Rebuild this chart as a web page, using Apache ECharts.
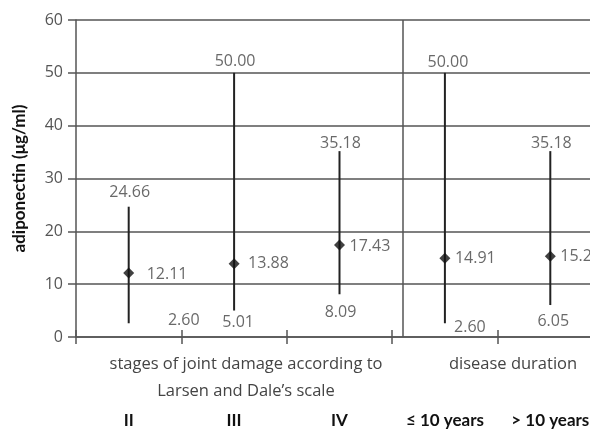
<!DOCTYPE html>
<html><head><meta charset="utf-8">
<script src="https://cdn.jsdelivr.net/npm/echarts@6/dist/echarts.min.js"></script>
<style>html,body{margin:0;padding:0;background:#fff}#c{width:590px;height:430px}</style>
</head><body><div id="c"></div>
<script>
const categories = ['II', 'III', 'IV', '≤ 10 years', '> 10 years'];
const minValues = [2.60, 5.01, 8.09, 2.60, 6.05];
const medianValues = [12.11, 13.88, 17.43, 14.91, 15.27];
const maxValues = [24.66, 50.00, 35.18, 50.00, 35.18];
const yMin = 0, yMax = 60, yInterval = 10;
const groupLabels = ['stages of joint damage according to\nLarsen and Dale\u2019s scale', 'disease duration'];
const yTitle = 'adiponectin (\u03bcg/ml)';
const separatorPos = 3.1; // on a 0..5 band scale (between IV and ≤ 10 years)

// label placement (style only)
const minOffsets = [[55, -3], [4, 12], [1, 18], [25, 4], [3, 16]];
const maxOffsets = [[1, -14], [1, -11], [1, -8], [3, -10], [1, -8]];
const medOffsets = [[8, 1], [4, 0], [0, 2], [0, 0], [0, 0]];

const numFont = { fontFamily: 'Open Sans', fontSize: 16, color: '#444' };
const gridColor = '#555';

const chart = echarts.init(document.getElementById('c'), null, { renderer: 'canvas' });

const fmt = v => v.toFixed(2);

const option = {
  animation: false,
  backgroundColor: '#fff',
  grid: { left: 76, top: 20, width: 527, height: 317, containLabel: false, outerBoundsMode: 'none' },
  xAxis: [
    {
      type: 'category', data: categories, boundaryGap: true,
      axisLine: { show: true, lineStyle: { color: gridColor, width: 1.5 } },
      axisTick: { show: true, length: 7, lineStyle: { color: gridColor, width: 1.5 } },
      axisLabel: { margin: 75, fontFamily: 'Lato', fontWeight: 'bold', fontSize: 17, color: '#111', interval: 0, hideOverlap: false },
      splitLine: { show: false }
    },
    {
      type: 'category', data: categories, boundaryGap: true, position: 'bottom',
      axisLine: { show: false },
      axisTick: { show: true, inside: true, length: 7, lineStyle: { color: gridColor, width: 1.5 } },
      axisLabel: { show: false }, splitLine: { show: false }
    },
    { type: 'value', min: 0, max: 5, show: false }
  ],
  yAxis: {
    type: 'value', min: yMin, max: yMax, interval: yInterval,
    name: yTitle, nameLocation: 'middle', nameGap: 48, nameRotate: 90,
    nameTextStyle: { fontFamily: 'Lato', fontWeight: 'bold', fontSize: 17, color: '#111' },
    axisLine: { show: true, lineStyle: { color: gridColor, width: 1.5 } },
    axisTick: { show: true, length: 8, lineStyle: { color: gridColor, width: 1.5 } },
    axisLabel: { margin: 13, fontFamily: 'Open Sans', fontSize: 16, color: '#555' },
    splitLine: { show: true, lineStyle: { color: gridColor, width: 1.5 } }
  },
  graphic: [
    { type: 'text', x: 246, y: 351, silent: true,
      style: { text: groupLabels[0], fill: '#444', font: '16.5px "Open Sans"', lineHeight: 27,
               textAlign: 'center', align: 'center', textVerticalAlign: 'top', verticalAlign: 'top' } },
    { type: 'text', x: 513, y: 351, silent: true,
      style: { text: groupLabels[1], fill: '#444', font: '16.5px "Open Sans"', lineHeight: 27,
               textAlign: 'center', align: 'center', textVerticalAlign: 'top', verticalAlign: 'top' } }
  ],
  series: [
    {
      type: 'custom', xAxisIndex: 0, yAxisIndex: 0, silent: true, z: 3,
      data: categories.map((c, i) => [i, minValues[i], maxValues[i]]),
      renderItem: function (params, api) {
        const p1 = api.coord([api.value(0), api.value(1)]);
        const p2 = api.coord([api.value(0), api.value(2)]);
        return { type: 'line', shape: { x1: p1[0], y1: p1[1], x2: p2[0], y2: p2[1] },
                 style: { stroke: '#222', lineWidth: 2 } };
      }
    },
    {
      type: 'scatter', xAxisIndex: 0, yAxisIndex: 0, silent: true, z: 4,
      symbol: 'diamond', symbolSize: [11, 11],
      itemStyle: { color: '#111' },
      data: categories.map((c, i) => ({
        value: [i, medianValues[i]],
        label: { offset: medOffsets[i] }
      })),
      label: { show: true, position: 'right', distance: 4.5, formatter: p => fmt(p.value[1]), ...numFont }
    },
    {
      type: 'scatter', xAxisIndex: 0, yAxisIndex: 0, silent: true, z: 4,
      symbol: 'circle', symbolSize: 1, itemStyle: { color: 'rgba(0,0,0,0)' },
      data: categories.map((c, i) => ({ value: [i, minValues[i]], label: { offset: minOffsets[i] } })),
      label: { show: true, position: 'inside', formatter: p => fmt(p.value[1]), ...numFont }
    },
    {
      type: 'scatter', xAxisIndex: 0, yAxisIndex: 0, silent: true, z: 4,
      symbol: 'circle', symbolSize: 1, itemStyle: { color: 'rgba(0,0,0,0)' },
      data: categories.map((c, i) => ({ value: [i, maxValues[i]], label: { offset: maxOffsets[i] } })),
      label: { show: true, position: 'inside', formatter: p => fmt(p.value[1]), ...numFont }
    },
    {
      type: 'line', xAxisIndex: 2, yAxisIndex: 0, data: [], silent: true,
      markLine: {
        silent: true, symbol: ['none', 'none'], label: { show: false },
        lineStyle: { type: 'solid', color: gridColor, width: 1.5 },
        data: [{ xAxis: separatorPos }]
      }
    }
  ]
};
chart.setOption(option);
</script>
</body></html>
